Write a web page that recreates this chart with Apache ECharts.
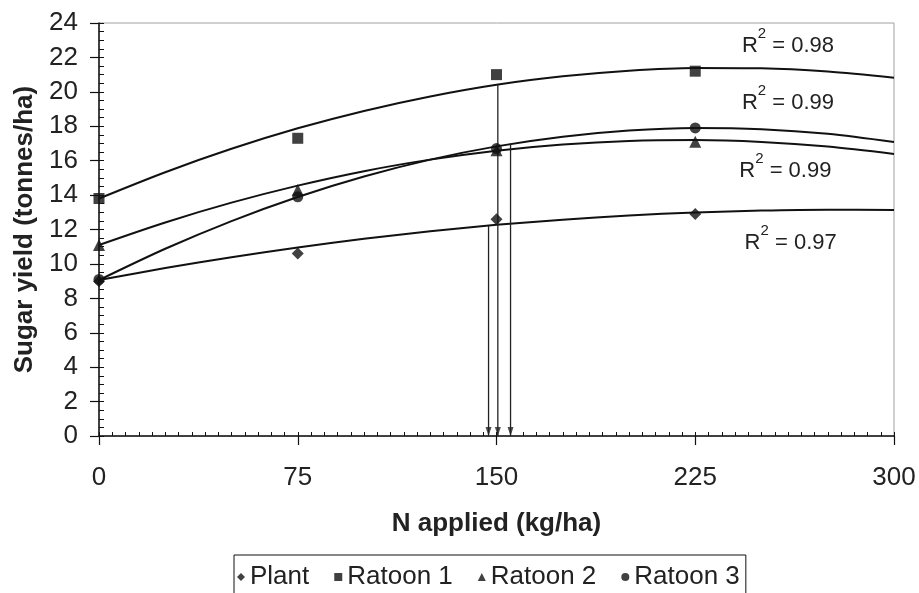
<!DOCTYPE html>
<html>
<head>
<meta charset="utf-8">
<title>Sugar yield response to N</title>
<script src="https://cdn.jsdelivr.net/npm/echarts@6/dist/echarts.min.js"></script>
<style>
  html, body { margin: 0; padding: 0; background: #fff; }
  #chart { width: 919px; height: 593px; }
</style>
</head>
<body>
<div id="chart"></div>
<script>
// Nitrogen rates (kg/ha) and measured sugar yields (tonnes/ha)
const nRates = [0, 75, 150, 225];
const plant = [9.0, 10.6, 12.6, 12.9];
const ratoon1 = [13.8, 17.3, 21.0, 21.2];
const ratoon2 = [11.1, 14.3, 16.6, 17.1];
const ratoon3 = [9.1, 13.9, 16.7, 17.9];

// Quadratic trend curves, sampled every 25 kg/ha
const trendX = [0, 25, 50, 75, 100, 125, 150, 175, 200, 225, 250, 275, 300];
const plantTrend = [9.06, 9.76, 10.39, 10.96, 11.46, 11.90, 12.27, 12.57, 12.82, 12.99, 13.10, 13.15, 13.13];
const ratoon1Trend = [13.80, 15.33, 16.69, 17.88, 18.89, 19.73, 20.41, 20.90, 21.23, 21.39, 21.37, 21.18, 20.82];
const ratoon2Trend = [11.10, 12.41, 13.56, 14.55, 15.39, 16.06, 16.58, 16.94, 17.15, 17.20, 17.09, 16.82, 16.39];
const ratoon3Trend = [9.06, 10.88, 12.49, 13.89, 15.08, 16.06, 16.83, 17.39, 17.75, 17.90, 17.83, 17.56, 17.08];

// Coefficients of determination for each trend
const r2Plant = '0.97';
const r2Ratoon1 = '0.98';
const r2Ratoon2 = '0.99';
const r2Ratoon3 = '0.99';

// Optimum N rates read down to the axis, and the yield where each drop line starts
const optimumN = [147, 150.5, 155.3];
const optimumTop = [12.2, 20.4, 17.0];

// Axis ticks
const xTicks = [0, 75, 150, 225, 300];
const yTicks = [0, 2, 4, 6, 8, 10, 12, 14, 16, 18, 20, 22, 24];

const seriesNames = ['Plant', 'Ratoon 1', 'Ratoon 2', 'Ratoon 3'];

const FONT = '"Liberation Sans", Arial, Helvetica, sans-serif';
const INK = '#111';

const chart = echarts.init(document.getElementById('chart'), null, { renderer: 'canvas' });

function pairs(xs, ys) { return xs.map((x, i) => [x, ys[i]]); }

function r2Label(value, x, y) {
  return {
    coord: [x, y],
    label: {
      show: true,
      position: 'inside',
      formatter: '{r|R}{s|2}{r| = ' + value + '}',
      rich: {
        r: { fontSize: 22, color: '#222', fontFamily: FONT },
        s: { fontSize: 15, color: '#222', fontFamily: FONT, padding: [0, 0, 24, 0] }
      }
    }
  };
}

function trendSeries(name, values, labelItem) {
  return {
    name: name + ' trend',
    type: 'line',
    data: pairs(trendX, values),
    smooth: 0.3,
    showSymbol: false,
    silent: true,
    z: 2,
    lineStyle: { color: INK, width: 2 },
    markPoint: {
      symbol: 'circle',
      symbolSize: 0,
      silent: true,
      itemStyle: { color: 'transparent' },
      data: [labelItem]
    }
  };
}

function pointSeries(name, values, symbol, size) {
  return {
    name: name,
    type: 'scatter',
    data: pairs(nRates, values),
    symbol: symbol,
    symbolSize: size,
    z: 5,
    itemStyle: { color: INK }
  };
}

const dropLines = optimumN.map((x, i) => ({
  type: 'line',
  data: [[x, optimumTop[i]], [x, 0]],
  showSymbol: false,
  silent: true,
  z: 3,
  lineStyle: { color: '#222', width: 1.3 }
}));

const arrowHeads = {
  type: 'scatter',
  data: optimumN.map(x => [x, 0]),
  symbol: 'triangle',
  symbolRotate: 180,
  symbolSize: [6, 9],
  symbolOffset: [0, -4.5],
  silent: true,
  z: 4,
  itemStyle: { color: '#222' }
};

const option = {
  animation: false,
  textStyle: { fontFamily: FONT },
  grid: {
    left: 99, right: 25, top: 23, bottom: 157,
    show: true, borderColor: '#a0a0a0', borderWidth: 1
  },
  legend: {
    data: [
      { name: seriesNames[0], icon: 'diamond' },
      { name: seriesNames[1], icon: 'rect' },
      { name: seriesNames[2], icon: 'triangle' },
      { name: seriesNames[3], icon: 'circle' }
    ],
    left: 234,
    top: 555,
    orient: 'horizontal',
    itemWidth: 8,
    itemHeight: 8,
    itemGap: 25,
    padding: [9, 6, 30, 3],
    borderColor: INK,
    borderWidth: 1,
    textStyle: { fontSize: 26, color: '#222', fontFamily: FONT },
    itemStyle: { color: INK },
    selectedMode: false
  },
  xAxis: [
    {
      type: 'value', min: xTicks[0], max: xTicks[xTicks.length - 1], interval: 75,
      position: 'bottom',
      axisLine: { onZero: false, lineStyle: { color: INK, width: 1.5 } },
      axisTick: { length: 9, lineStyle: { color: INK, width: 1.2 } },
      axisLabel: { fontSize: 26, color: '#222', margin: 29, fontFamily: FONT },
      splitLine: { show: false },
      name: 'N applied (kg/ha)',
      nameLocation: 'middle',
      nameGap: 75,
      nameTextStyle: { fontSize: 26, fontWeight: 'bold', color: '#222', fontFamily: FONT }
    },
    {
      type: 'value', min: xTicks[0], max: xTicks[xTicks.length - 1], interval: 5,
      position: 'bottom',
      axisLine: { show: false, onZero: false },
      axisTick: { inside: true, length: 4, lineStyle: { color: INK, width: 1 } },
      axisLabel: { show: false },
      splitLine: { show: false }
    }
  ],
  yAxis: [
    {
      type: 'value', min: yTicks[0], max: yTicks[yTicks.length - 1], interval: 2,
      position: 'left',
      axisLine: { show: true, onZero: false, lineStyle: { color: INK, width: 1.5 } },
      axisTick: { show: true, length: 9, lineStyle: { color: INK, width: 1.2 } },
      axisLabel: { fontSize: 26, color: '#222', margin: 21, fontFamily: FONT },
      splitLine: { show: false },
      name: 'Sugar yield (tonnes/ha)',
      nameLocation: 'middle',
      nameRotate: 90,
      nameGap: 57,
      nameTextStyle: { fontSize: 26, fontWeight: 'bold', color: '#222', fontFamily: FONT }
    },
    {
      type: 'value', min: yTicks[0], max: yTicks[yTicks.length - 1], interval: 0.5,
      position: 'left',
      axisLine: { show: false, onZero: false },
      axisTick: { show: true, inside: true, length: 5, lineStyle: { color: INK, width: 1 } },
      axisLabel: { show: false },
      splitLine: { show: false }
    }
  ],
  series: [
    trendSeries(seriesNames[1], ratoon1Trend, r2Label(r2Ratoon1, 260, 22.66)),
    trendSeries(seriesNames[3], ratoon3Trend, r2Label(r2Ratoon3, 260, 19.35)),
    trendSeries(seriesNames[2], ratoon2Trend, r2Label(r2Ratoon2, 259, 15.40)),
    trendSeries(seriesNames[0], plantTrend, r2Label(r2Plant, 261, 11.21)),
    ...dropLines,
    arrowHeads,
    pointSeries(seriesNames[0], plant, 'diamond', 12),
    pointSeries(seriesNames[1], ratoon1, 'rect', 11),
    pointSeries(seriesNames[2], ratoon2, 'triangle', 12),
    pointSeries(seriesNames[3], ratoon3, 'circle', 11)
  ]
};

chart.setOption(option);
</script>
</body>
</html>
